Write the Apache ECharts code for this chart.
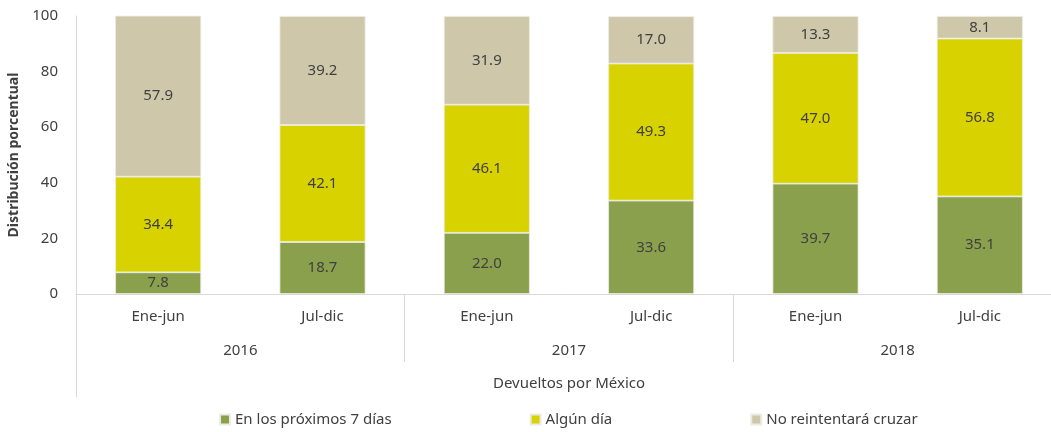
<!DOCTYPE html>
<html>
<head>
<meta charset="utf-8">
<script src="https://cdn.jsdelivr.net/npm/echarts@6/dist/echarts.min.js"></script>
<style>
  html, body { margin: 0; padding: 0; background: #fff; }
  #main { width: 1051px; height: 432px; }
</style>
</head>
<body>
<div id="main"></div>
<script>
// datos
var periodos = ['Ene-jun', 'Jul-dic', 'Ene-jun', 'Jul-dic', 'Ene-jun', 'Jul-dic'];
var anios = ['2016', '2017', '2018'];
var grupo = ['Devueltos por México'];
var proximos7 = [7.8, 18.7, 22.0, 33.6, 39.7, 35.1];
var algunDia = [34.4, 42.1, 46.1, 49.3, 47.0, 56.8];
var noReintentara = [57.9, 39.2, 31.9, 17.0, 13.3, 8.1];
var yTicks = [0, 20, 40, 60, 80, 100];

var fuente = 'Noto Sans';
var gris = '#d9d9d9';
var texto = '#404040';

var myChart = echarts.init(document.getElementById('main'));

function serie(nombre, datos, color) {
  return {
    name: nombre,
    type: 'bar',
    stack: 'total',
    barWidth: 86,
    data: datos,
    itemStyle: { color: color, borderColor: '#ecece4', borderWidth: 0.8 },
    label: {
      show: true,
      position: 'inside',
      color: texto,
      fontFamily: fuente,
      fontSize: 15,
      formatter: function (p) { return p.value.toFixed(1); }
    }
  };
}

var option = {
  animation: false,
  textStyle: { fontFamily: fuente },
  // el area de trazado sigue mas alla del borde derecho
  grid: { left: 76, width: 986, top: 16, bottom: 138, outerBoundsMode: 'none' },
  legend: {
    bottom: 0,
    left: 214,
    itemWidth: 10,
    itemHeight: 10,
    itemGap: 138,
    icon: 'rect',
    textStyle: { color: texto, fontSize: 15, fontFamily: fuente },
    data: ['En los próximos 7 días', 'Algún día', 'No reintentará cruzar']
  },
  xAxis: [
    {
      type: 'category',
      data: periodos,
      position: 'bottom',
      axisLine: { lineStyle: { color: gris } },
      axisTick: { show: false },
      axisLabel: { color: texto, fontSize: 15, margin: 15, fontFamily: fuente }
    },
    {
      type: 'category',
      data: anios,
      position: 'bottom',
      axisLine: { show: false },
      axisTick: { show: true, length: 68, lineStyle: { color: gris } },
      axisLabel: { color: texto, fontSize: 15, margin: 49, fontFamily: fuente }
    },
    {
      type: 'category',
      data: grupo,
      position: 'bottom',
      axisLine: { show: false },
      axisTick: { show: true, length: 103, lineStyle: { color: gris } },
      axisLabel: { color: texto, fontSize: 15, margin: 82, fontFamily: fuente }
    }
  ],
  yAxis: {
    type: 'value',
    min: yTicks[0],
    max: yTicks[yTicks.length - 1],
    interval: 20,
    name: 'Distribución porcentual',
    nameLocation: 'middle',
    nameGap: 49,
    nameTextStyle: { color: texto, fontSize: 14, fontWeight: 'bold', fontFamily: fuente },
    axisLine: { show: true, lineStyle: { color: gris } },
    axisTick: { show: false },
    splitLine: { show: false },
    axisLabel: { color: texto, fontSize: 15, margin: 18, fontFamily: fuente }
  },
  series: [
    serie('En los próximos 7 días', proximos7, '#8ba04c'),
    serie('Algún día', algunDia, '#d8d300'),
    serie('No reintentará cruzar', noReintentara, '#cfc7a9')
  ]
};

myChart.setOption(option);
window.addEventListener('resize', function () {
  myChart.resize();
});
</script>
</body>
</html>
